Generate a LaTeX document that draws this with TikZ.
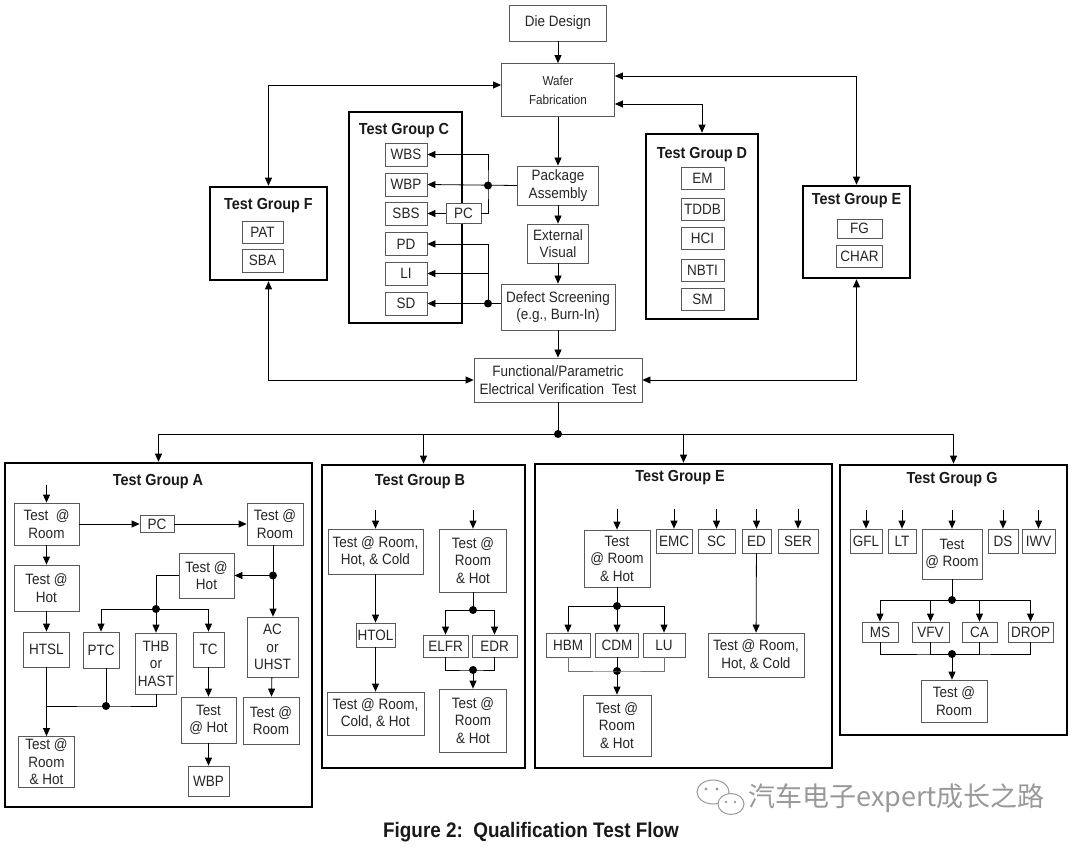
\documentclass[tikz,border=0pt]{standalone}
\usepackage{fontspec}
\setmainfont{Liberation Sans}[FakeStretch=0.9]
\newfontfamily\cjkfont{Noto Sans CJK SC}
\usetikzlibrary{arrows.meta,calc}
\def\bxf{\fontsize{15}{17.5}\selectfont}
\def\grf{\fontsize{16}{18}\selectfont\bfseries}

\begin{document}
\begin{tikzpicture}[x=1pt,y=-1pt,line width=0.8pt,
    cell/.style={draw=black!65, line width=0.8pt, fill=white, align=center, inner sep=0pt, text=black!85, font=\bxf},
    grp/.style={draw=black, line width=2.6pt},
    ttl/.style={font=\grf, text=black!90},
    dot/.style={circle, fill=black, inner sep=0pt, minimum size=8pt},
    arr/.style={-{Triangle[length=8pt,width=7pt]}},
    arr2/.style={{Triangle[length=8pt,width=7pt]}-{Triangle[length=8pt,width=7pt]}}]
    %%%%% START %%%%%
    \fill[white] (0,0) rectangle (1080,850);
    \useasboundingbox (0,0) rectangle (1080,850);

    % main flow
    \node[cell, minimum width=97, minimum height=36] (die) at (558,23) {Die Design};
    \node[cell, minimum width=113, minimum height=53, font=\fontsize{13}{19}\selectfont] (wafer) at (558,90) {Wafer\\Fabrication};
    \node[cell, minimum width=81, minimum height=39] (pkg) at (558,185.5) {Package\\Assembly};
    \node[cell, minimum width=61, minimum height=39] (ext) at (558,243.5) {External\\Visual};
    \node[cell, minimum width=114, minimum height=46] (defect) at (558,307) {Defect Screening\\(e.g., Burn-In)};
    \node[cell, minimum width=168, minimum height=44] (func) at (558,380) {Functional/Parametric\\Electrical Verification\ \ Test};

    \draw[arr] (die) -- (wafer);
    \draw[arr] (wafer) -- (pkg);
    \draw[arr] (pkg) -- (ext);
    \draw[arr] (ext) -- (defect);
    \draw[arr] (defect) -- (func);

    % group F
    \node[grp, minimum width=117, minimum height=93] (grpF) at (268.5,233.5) {};
    \node[ttl] (ttlF) at (268.5,206) {Test Group F};
    \node[cell, minimum width=41, minimum height=22] (pat) at (262.5,232) {PAT};
    \node[cell, minimum width=41, minimum height=23] (sba) at (262.5,260.5) {SBA};

    % group C
    \node[grp, minimum width=113, minimum height=211] (grpC) at (405.5,217.5) {};
    \node[ttl] (ttlC) at (404,131) {Test Group C};
    \node[cell, minimum width=42, minimum height=23] (wbs) at (406,154.5) {WBS};
    \node[cell, minimum width=42, minimum height=23] (wbp) at (406,184.5) {WBP};
    \node[cell, minimum width=42, minimum height=23] (sbs) at (406,213.5) {SBS};
    \node[cell, minimum width=42, minimum height=23] (pd) at (406,244) {PD};
    \node[cell, minimum width=42, minimum height=23] (li) at (406,273.5) {LI};
    \node[cell, minimum width=42, minimum height=23] (sd) at (406,303.5) {SD};
    \node[cell, minimum width=35, minimum height=20] (pc) at (463.5,213.5) {PC};

    % group D
    \node[grp, minimum width=112, minimum height=185] (grpD) at (702,226.5) {};
    \node[ttl] (ttlD) at (702,155) {Test Group D};
    \node[cell, minimum width=43, minimum height=22] (em) at (702.5,178) {EM};
    \node[cell, minimum width=43, minimum height=22] (tddb) at (702.5,209) {TDDB};
    \node[cell, minimum width=43, minimum height=22] (hci) at (702.5,238.5) {HCI};
    \node[cell, minimum width=43, minimum height=22] (nbti) at (702.5,270) {NBTI};
    \node[cell, minimum width=43, minimum height=22] (sm) at (702.5,299.5) {SM};

    % group E (top)
    \node[grp, minimum width=107, minimum height=92] (grpEt) at (856.5,232) {};
    \node[ttl] (ttlEt) at (856.5,201) {Test Group E};
    \node[cell, minimum width=45, minimum height=19] (fg) at (859.5,228.5) {FG};
    \node[cell, minimum width=46, minimum height=22] (char) at (859.5,256) {CHAR};

    % links to wafer fab and verification test
    \draw[arr2] (grpF.north) |- ([yshift=5pt]wafer.west);
    \draw[arr2] (grpEt.north) |- ([yshift=14pt]wafer.east);
    \draw[arr2] (grpD.north) |- ([yshift=-14pt]wafer.east);
    \draw[arr2] (grpF.south) |- (func.west);
    \draw[arr2] (grpEt.south) |- (func.east);

    % group C feeds
    \node[dot] (pkgDot) at (488,185.5) {};
    \draw[arr] (pkg.west) -- (wbp.east);
    \draw[arr] (pc.east) -| (pkgDot.center) |- (wbs.east);
    \draw[arr] (pc.west) -- (sbs.east);
    \node[dot] (defDot) at (488,303.5) {};
    \draw[arr] (defect.west |- defDot) -- (sd.east);
    \draw[arr] (defDot.center) |- (pd.east);
    \draw[arr] (defDot.center) |- (li.east);

    % split to lower groups
    \node[grp, minimum width=307, minimum height=344] (grpA) at (158.5,635) {};
    \node[grp, minimum width=203, minimum height=303] (grpB) at (423.5,616.5) {};
    \node[grp, minimum width=297, minimum height=304] (grpE) at (683.5,616) {};
    \node[grp, minimum width=227, minimum height=270] (grpG) at (953.5,600) {};
    \node[dot] (mDot) at (558,434) {};
    \draw (func) -- (mDot.center);
    \draw[arr] (mDot.center) -| (grpA.north);
    \draw[arr] (mDot.center) -| (grpB.north);
    \draw[arr] (mDot.center) -| (grpE.north);
    \draw[arr] (mDot.center) -| (grpG.north);

    % group A
    \node[ttl] (ttlA) at (158,482) {Test Group A};
    \node[cell, minimum width=65, minimum height=42] (aRoom1) at (46.5,524) {Test\ \ @\\Room};
    \node[cell, minimum width=34, minimum height=17] (aPC) at (157,524) {PC};
    \node[cell, minimum width=56, minimum height=42] (aRoom2) at (275,524) {Test @\\Room};
    \node[cell, minimum width=65, minimum height=46] (aHot1) at (46.5,588) {Test @\\Hot};
    \node[cell, minimum width=46, minimum height=35] (aHTSL) at (46.5,649.5) {HTSL};
    \node[cell, minimum width=36, minimum height=36] (aPTC) at (101,650) {PTC};
    \node[cell, minimum width=41, minimum height=61] (aTHB) at (156,663.5) {THB\\or\\HAST};
    \node[cell, minimum width=31, minimum height=35] (aTC) at (208.5,649.5) {TC};
    \node[cell, minimum width=55, minimum height=45] (aHot2) at (206.5,575.5) {Test @\\Hot};
    \node[cell, minimum width=51, minimum height=60] (aAC) at (272.5,647) {AC\\or\\UHST};
    \node[cell, minimum width=56, minimum height=47] (aRoom3) at (271,720.5) {Test @\\Room};
    \node[cell, minimum width=55, minimum height=46] (aHot3) at (208.5,720) {Test\\@ Hot};
    \node[cell, minimum width=41, minimum height=30] (aWBP) at (208.5,781) {WBP};
    \node[cell, minimum width=56, minimum height=51] (aRoomHot) at (46.5,762) {Test @\\Room\\\& Hot};

    \draw[arr] ([yshift=18pt]aRoom1.north) -- (aRoom1);
    \draw[arr] (aRoom1) -- (aPC);
    \draw[arr] (aPC) -- (aRoom2);
    \draw[arr] (aRoom1) -- (aHot1);
    \draw[arr] (aHot1) -- (aHTSL);
    \node[dot] (aDot1) at (273,575.5) {};
    \draw[arr] (aDot1 |- aRoom2.south) -- (aDot1 |- aAC.north);
    \draw[arr] (aDot1.center) -- (aHot2.east);
    \node[dot] (aDot2) at (156,609) {};
    \draw (aHot2.west) -| (aDot2.center);
    \draw[arr] (aDot2.center) -| (aPTC.north);
    \draw[arr] (aDot2.center) -- (aTHB.north);
    \draw[arr] (aDot2.center) -| (aTC.north);
    \draw[arr] (aAC) -- (aRoom3);
    \draw[arr] (aTC) -- (aHot3);
    \draw[arr] (aHot3) -- (aWBP);
    \node[dot] (aDot3) at (106,706) {};
    \draw (aTHB.south) |- (aDot3.center) -- (aDot3 -| aHTSL.south);
    \draw (aPTC.south -| aDot3) -- (aDot3.center);
    \draw[arr] (aHTSL) -- (aRoomHot);

    % group B
    \node[ttl] (ttlB) at (420,482) {Test Group B};
    \node[cell, minimum width=95, minimum height=45] (bRHC) at (375.5,551.5) {Test @ Room,\\Hot, \& Cold};
    \node[cell, minimum width=39, minimum height=24] (bHTOL) at (375.5,635) {HTOL};
    \node[cell, minimum width=97, minimum height=43] (bRCH) at (375.5,713.5) {Test @ Room,\\Cold, \& Hot};
    \node[cell, minimum width=67, minimum height=63] (bRH1) at (473,560.5) {Test @\\Room\\\& Hot};
    \node[cell, minimum width=45, minimum height=22] (bELFR) at (445.5,646) {ELFR};
    \node[cell, minimum width=45, minimum height=22] (bEDR) at (494.5,646) {EDR};
    \node[cell, minimum width=67, minimum height=63] (bRH2) at (473,720.5) {Test @\\Room\\\& Hot};

    \draw[arr] ([yshift=19pt]bRHC.north) -- (bRHC);
    \draw[arr] (bRHC) -- (bHTOL);
    \draw[arr] (bHTOL) -- (bRCH);
    \draw[arr] ([yshift=19pt]bRH1.north) -- (bRH1);
    \node[dot] (bDot1) at (473,610) {};
    \draw (bRH1) -- (bDot1.center);
    \draw[arr] (bDot1.center) -| (bELFR.north);
    \draw[arr] (bDot1.center) -| (bEDR.north);
    \node[dot] (bDot2) at (473,670) {};
    \draw (bELFR.south) |- (bDot2.center) -| (bEDR.south);
    \draw[arr] (bDot2.center) -- (bRH2);

    % group E
    \node[ttl] (ttlE) at (680,478) {Test Group E};
    \node[cell, minimum width=66, minimum height=57] (eRH1) at (617,558.5) {Test\\@ Room\\\& Hot};
    \node[cell, minimum width=36, minimum height=24] (eEMC) at (674,541) {EMC};
    \node[cell, minimum width=37, minimum height=24] (eSC) at (716.5,541) {SC};
    \node[cell, minimum width=29, minimum height=24] (eED) at (756.5,541) {ED};
    \node[cell, minimum width=40, minimum height=24] (eSER) at (798,541) {SER};
    \node[cell, minimum width=44, minimum height=24] (eHBM) at (568,645) {HBM};
    \node[cell, minimum width=43, minimum height=24] (eCDM) at (617,645) {CDM};
    \node[cell, minimum width=42, minimum height=24] (eLU) at (664,645) {LU};
    \node[cell, minimum width=68, minimum height=61] (eRH2) at (617,725.5) {Test @\\Room\\\& Hot};
    \node[cell, minimum width=96, minimum height=44] (eRHC) at (756,655) {Test @ Room,\\Hot, \& Cold};

    \draw[arr] ([yshift=21pt]eRH1.north) -- (eRH1);
    \foreach \n in {eEMC,eSC,eED,eSER}
        \draw[arr] ([yshift=20pt]\n.north) -- (\n);
    \node[dot] (eDot1) at (617,606) {};
    \draw (eRH1) -- (eDot1.center);
    \draw[arr] (eDot1.center) -| (eHBM.north);
    \draw[arr] (eDot1.center) -- (eCDM);
    \draw[arr] (eDot1.center) -| (eLU.north);
    \node[dot] (eDot2) at (617,671) {};
    \draw[black!55] (eHBM.south) |- (eDot2.center) -| (eLU.south);
    \draw (eCDM) -- (eDot2.center);
    \draw[arr] (eDot2.center) -- (eRH2);
    \draw[arr] (eED) -- (eRHC);

    % group G
    \node[ttl] (ttlG) at (952,480) {Test Group G};
    \node[cell, minimum width=32, minimum height=24] (gGFL) at (866,541) {GFL};
    \node[cell, minimum width=28, minimum height=24] (gLT) at (902,541) {LT};
    \node[cell, minimum width=60, minimum height=50] (gRoom1) at (952,554) {Test\\@ Room};
    \node[cell, minimum width=30, minimum height=24] (gDS) at (1003,541) {DS};
    \node[cell, minimum width=33, minimum height=24] (gIWV) at (1038.5,541) {IWV};
    \node[cell, minimum width=36, minimum height=20] (gMS) at (880,632) {MS};
    \node[cell, minimum width=37, minimum height=20] (gVFV) at (930.5,632) {VFV};
    \node[cell, minimum width=35, minimum height=20] (gCA) at (979.5,632) {CA};
    \node[cell, minimum width=45, minimum height=20] (gDROP) at (1030.5,632) {DROP};
    \node[cell, minimum width=66, minimum height=42] (gRoom2) at (954,701) {Test @\\Room};

    \foreach \n in {gGFL,gLT,gDS,gIWV}
        \draw[arr] ([yshift=19pt]\n.north) -- (\n);
    \draw[arr] ([yshift=19pt]gRoom1.north) -- (gRoom1);
    \node[dot] (gDot1) at (952,600) {};
    \draw (gRoom1) -- (gDot1.center);
    \foreach \n in {gMS,gVFV,gCA,gDROP}
        \draw[arr] (gDot1.center) -| (\n.north);
    \node[dot] (gDot2) at (952,654) {};
    \draw (gMS.south) |- (gDot2.center) -| (gDROP.south);
    \draw (gVFV.south) |- (gDot2.center);
    \draw (gCA.south) |- (gDot2.center);
    \draw[arr] (gDot2.center) -- (gDot2 |- gRoom2.north);

    % watermark
    \draw[black!40, line width=1pt, fill=white] (713,792) ellipse (16 and 12);
    \draw[black!40, line width=1pt, fill=white] (731,804) ellipse (13 and 10.5);
    \fill[black!40] (706,789) circle (1.6) (717,789) circle (1.6) (726,802) circle (1.4) (735,802) circle (1.4);
    \node[text=black!40, font=\cjkfont\fontsize{27}{29}\selectfont, anchor=west, inner sep=0pt] (wmark) at (748,798) {汽车电子expert成长之路};

    % caption
    \node[font=\fontsize{21}{24}\selectfont\bfseries, text=black!90] (cap) at (531,832) {Figure 2:\ \ Qualification Test Flow};
    %%%%% END %%%%%
\end{tikzpicture}
\end{document}
